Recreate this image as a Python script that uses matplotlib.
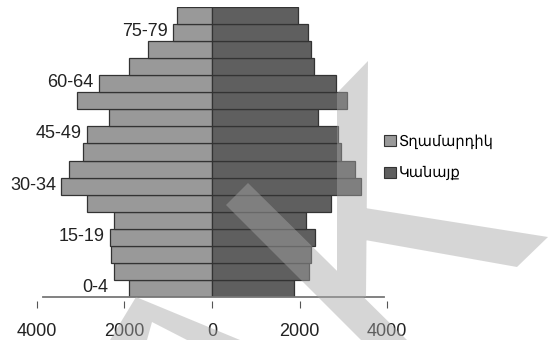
import matplotlib
matplotlib.use("Agg")
import matplotlib.pyplot as plt
import numpy as np
from matplotlib.patches import Patch, PathPatch
from matplotlib.path import Path

plt.rcParams["font.family"] = ["Liberation Sans", "DejaVu Sans"]

age_groups = ["0-4", "5-9", "10-14", "15-19", "20-24", "25-29", "30-34", "35-39",
              "40-44", "45-49", "50-54", "55-59", "60-64", "65-69", "70-74", "75-79", "80+"]
men = [1890, 2235, 2310, 2330, 2235, 2860, 3450, 3275, 2950, 2860,
       2360, 3085, 2590, 1900, 1455, 900, 800]
women = [1867, 2217, 2270, 2362, 2150, 2720, 3406, 3276, 2956, 2873,
         2416, 3078, 2827, 2324, 2270, 2187, 1960]
tick_values = [-4000, -2000, 0, 2000, 4000]
tick_labels = ["4000", "2000", "0", "2000", "4000"]
series_names = ["Տղամարդիկ", "Կանայք"]

W, H = 556, 340
fig = plt.figure(figsize=(W / 100, H / 100), dpi=100)
ax = fig.add_axes([37 / W, 43 / H, 350 / W, 290 / H])

c_men, c_women, c_edge = "#999999", "#5f5f5f", "#333333"
y = np.arange(len(age_groups))
ax.barh(y, -np.array(men), height=1.0, color=c_men, edgecolor=c_edge, linewidth=0.9)
ax.barh(y, women, height=1.0, color=c_women, edgecolor=c_edge, linewidth=0.9)
ax.set_xlim(-4000, 4000)
ax.set_ylim(-0.5, len(age_groups) - 0.5)

# age labels on every third group, just left of the men's bar
for i in range(0, len(age_groups), 3):
    off = -21 if i == 0 else -5
    ax.annotate(age_groups[i], (-men[i], i), xytext=(off, 1), textcoords="offset pixels",
                ha="right", va="center", fontsize=13, color="#222222")

for s in ["top", "right", "left"]:
    ax.spines[s].set_visible(False)
ax.spines["bottom"].set_position(("outward", 3))
ax.spines["bottom"].set_visible(False)
ax.plot([-3860, 3930], [-0.5, -0.5], color="#777777", lw=1.3, clip_on=False, zorder=3)
ax.set_yticks([])
ax.set_xticks(tick_values)
ax.set_xticklabels(tick_labels)
ax.tick_params(axis="x", length=5, width=0.8, color="#555555", pad=11,
               labelsize=13, labelcolor="#222222")

handles = [Patch(facecolor=c_men, edgecolor=c_edge, linewidth=0.8),
           Patch(facecolor=c_women, edgecolor=c_edge, linewidth=0.8)]
fig.legend(handles, series_names, loc="upper left", bbox_to_anchor=(384 / W, 1 - 134 / H),
           frameon=False, fontsize=10.5, handlelength=0.8, handleheight=0.8,
           handletextpad=0.2, labelspacing=1.2, borderpad=0, borderaxespad=0)

# light diagonal watermark across the picture
shapes = [
    [(368, 61), (366, 297), (337, 297), (337, 93)],
    [(365, 208), (548, 237), (517, 267), (365, 240)],
    [(248, 183), (226, 205), (361, 340), (407, 340)],
    [(136, 297), (240, 340), (187, 340), (152, 322), (147, 340), (110, 340)],
]
verts, codes = [], []
for pts in shapes:
    pts = [(px / W, 1 - py / H) for px, py in pts]
    xs, ys = np.array(pts).T
    area = np.sum(xs * np.roll(ys, -1) - np.roll(xs, -1) * ys)
    if area < 0:
        pts = pts[::-1]
    verts += pts + [pts[0]]
    codes += [Path.MOVETO] + [Path.LINETO] * (len(pts) - 1) + [Path.CLOSEPOLY]
fig.patches.append(PathPatch(Path(verts, codes), transform=fig.transFigure,
                             facecolor="#a7a7a7", edgecolor="none", alpha=0.46, zorder=10))

fig.savefig("out.png", dpi=100)
